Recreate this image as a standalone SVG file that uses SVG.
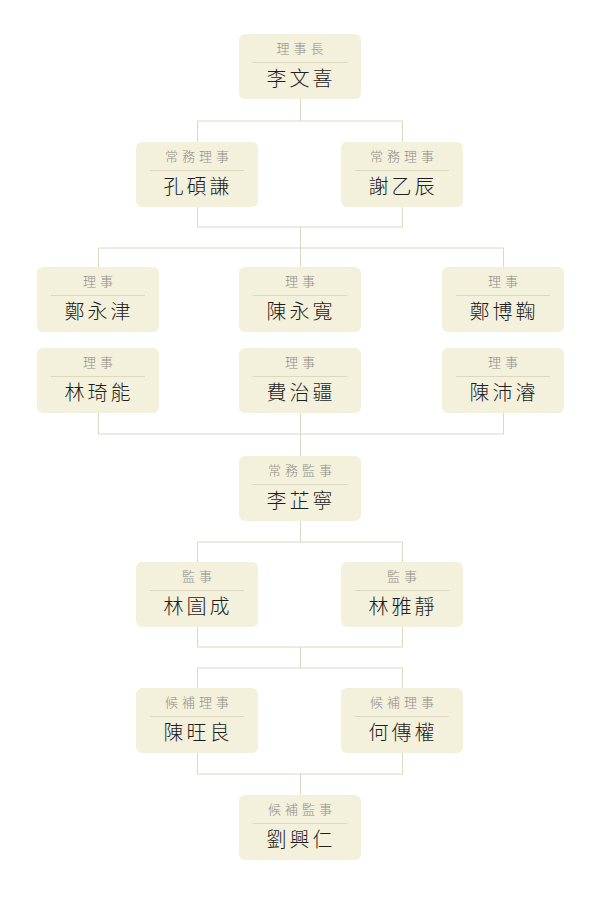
<svg xmlns="http://www.w3.org/2000/svg" width="600" height="900" viewBox="0 0 600 900">
<style>
.b{fill:#f3f0dc}
.s{stroke:#dcd8bf;stroke-width:1}
.t{font-family:"Noto Sans CJK TC","Noto Sans CJK SC",sans-serif;font-size:13px;font-weight:300;fill:#8f8f86;text-anchor:middle;letter-spacing:4px}
.n{font-family:"Noto Sans CJK TC","Noto Sans CJK SC",sans-serif;font-size:20px;font-weight:300;fill:#1e1e1e;text-anchor:middle;letter-spacing:3px}
.c{fill:none;stroke:#dcd8c4;stroke-width:1}
</style>
<rect width="600" height="900" fill="#fff"/>
<g id="connectors" class="c">
<path d="M300.5 99V121M197.5 121H402.5M197.5 121V142M402.5 121V142"/>
<path d="M197.5 207V227M402.5 207V227M197.5 227H402.5M300.5 227V248M98.5 248H503.5M98.5 248V267M300.5 248V267M503.5 248V267"/>
<path d="M98.5 413V434M503.5 413V434M98.5 434H503.5M300.5 413V456"/>
<path d="M300.5 521V542M197.5 542H402.5M197.5 542V562M402.5 542V562"/>
<path d="M197.5 627V647M402.5 627V647M197.5 647H402.5M300.5 647V668M197.5 668H402.5M197.5 668V688M402.5 668V688"/>
<path d="M197.5 753V774M402.5 753V774M197.5 774H402.5M300.5 774V795"/>
</g>
<g id="n1" transform="translate(239,34)"><rect class="b" width="122" height="65" rx="6"/><text class="t" x="63" y="19">理事長</text><line class="s" x1="14" x2="108" y1="28.5" y2="28.5"/><text class="n" x="62" y="52">李文喜</text></g>
<g id="n2" transform="translate(136,142)"><rect class="b" width="122" height="65" rx="6"/><text class="t" x="63" y="19">常務理事</text><line class="s" x1="14" x2="108" y1="28.5" y2="28.5"/><text class="n" x="62" y="52">孔碩謙</text></g>
<g id="n3" transform="translate(341,142)"><rect class="b" width="122" height="65" rx="6"/><text class="t" x="63" y="19">常務理事</text><line class="s" x1="14" x2="108" y1="28.5" y2="28.5"/><text class="n" x="62" y="52">謝乙辰</text></g>
<g id="n4" transform="translate(37,267)"><rect class="b" width="122" height="65" rx="6"/><text class="t" x="63" y="19">理事</text><line class="s" x1="14" x2="108" y1="28.5" y2="28.5"/><text class="n" x="62" y="52">鄭永津</text></g>
<g id="n5" transform="translate(239,267)"><rect class="b" width="122" height="65" rx="6"/><text class="t" x="63" y="19">理事</text><line class="s" x1="14" x2="108" y1="28.5" y2="28.5"/><text class="n" x="62" y="52">陳永寬</text></g>
<g id="n6" transform="translate(442,267)"><rect class="b" width="122" height="65" rx="6"/><text class="t" x="63" y="19">理事</text><line class="s" x1="14" x2="108" y1="28.5" y2="28.5"/><text class="n" x="62" y="52">鄭博鞠</text></g>
<g id="n7" transform="translate(37,348)"><rect class="b" width="122" height="65" rx="6"/><text class="t" x="63" y="19">理事</text><line class="s" x1="14" x2="108" y1="28.5" y2="28.5"/><text class="n" x="62" y="52">林琦能</text></g>
<g id="n8" transform="translate(239,348)"><rect class="b" width="122" height="65" rx="6"/><text class="t" x="63" y="19">理事</text><line class="s" x1="14" x2="108" y1="28.5" y2="28.5"/><text class="n" x="62" y="52">費治疆</text></g>
<g id="n9" transform="translate(442,348)"><rect class="b" width="122" height="65" rx="6"/><text class="t" x="63" y="19">理事</text><line class="s" x1="14" x2="108" y1="28.5" y2="28.5"/><text class="n" x="62" y="52">陳沛濬</text></g>
<g id="n10" transform="translate(239,456)"><rect class="b" width="122" height="65" rx="6"/><text class="t" x="63" y="19">常務監事</text><line class="s" x1="14" x2="108" y1="28.5" y2="28.5"/><text class="n" x="62" y="52">李芷寧</text></g>
<g id="n11" transform="translate(136,562)"><rect class="b" width="122" height="65" rx="6"/><text class="t" x="63" y="19">監事</text><line class="s" x1="14" x2="108" y1="28.5" y2="28.5"/><text class="n" x="62" y="52">林圁成</text></g>
<g id="n12" transform="translate(341,562)"><rect class="b" width="122" height="65" rx="6"/><text class="t" x="63" y="19">監事</text><line class="s" x1="14" x2="108" y1="28.5" y2="28.5"/><text class="n" x="62" y="52">林雅靜</text></g>
<g id="n13" transform="translate(136,688)"><rect class="b" width="122" height="65" rx="6"/><text class="t" x="63" y="19">候補理事</text><line class="s" x1="14" x2="108" y1="28.5" y2="28.5"/><text class="n" x="62" y="52">陳旺良</text></g>
<g id="n14" transform="translate(341,688)"><rect class="b" width="122" height="65" rx="6"/><text class="t" x="63" y="19">候補理事</text><line class="s" x1="14" x2="108" y1="28.5" y2="28.5"/><text class="n" x="62" y="52">何傳權</text></g>
<g id="n15" transform="translate(239,795)"><rect class="b" width="122" height="65" rx="6"/><text class="t" x="63" y="19">候補監事</text><line class="s" x1="14" x2="108" y1="28.5" y2="28.5"/><text class="n" x="62" y="52">劉興仁</text></g>
</svg>
